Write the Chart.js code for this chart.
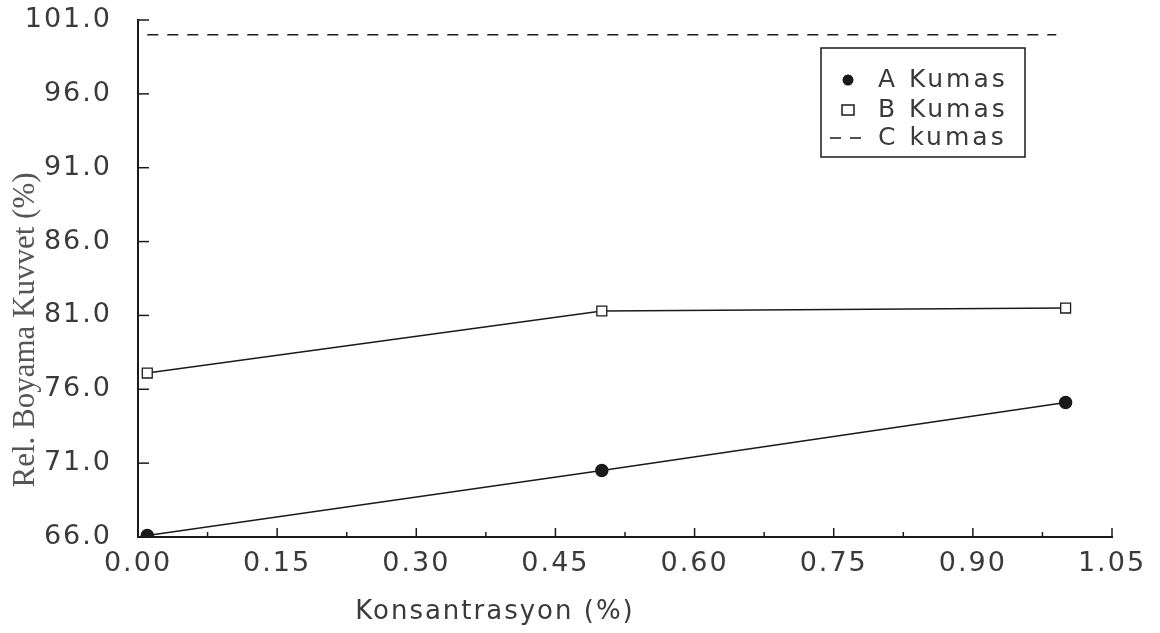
<!DOCTYPE html>
<html>
<head>
<meta charset="utf-8">
<script src="https://cdn.jsdelivr.net/npm/chart.js@4"></script>
<style>
  html, body { margin: 0; padding: 0; background: #fff; }
  #wrap { width: 1160px; height: 633px; }
</style>
</head>
<body>
<div id="wrap"><canvas id="chart" width="1160" height="633"></canvas></div>
<script>
// values
const concA = [0.01, 0.50, 1.00];
const kumasA = [66.1, 70.5, 75.1];
const concB = [0.01, 0.50, 1.00];
const kumasB = [77.1, 81.3, 81.5];
const concC = [0.01, 0.50, 0.99];
const kumasC = [100.0, 100.0, 100.0];
const seriesNames = ["A Kumas", "B Kumas", "C kumas"];
const xTitle = "Konsantrasyon (%)";
const yTitle = "Rel. Boyama Kuvvet (%)";

const ink = "#1a1a1a";
const textInk = "#3a3a3a";
const tickFont = { family: "'DejaVu Sans'", size: 27 };

function toPoints(xs, ys) {
    return xs.map((x, i) => ({ x: x, y: ys[i] }));
}

// inward tick marks, like the old plotter output
const innerTicks = {
    id: "innerTicks",
    afterDraw(chart) {
        const { ctx, scales: { x, y }, chartArea } = chart;
        ctx.save();
        ctx.strokeStyle = ink;
        ctx.lineWidth = 1.5;
        y.ticks.forEach(t => {
            const py = y.getPixelForValue(t.value);
            ctx.beginPath();
            ctx.moveTo(chartArea.left, py);
            ctx.lineTo(chartArea.left + 11, py);
            ctx.stroke();
        });
        x.ticks.forEach((t, i) => {
            const px = x.getPixelForValue(t.value);
            const len = i % 2 === 0 ? 9 : 5;
            ctx.beginPath();
            ctx.moveTo(px, chartArea.bottom);
            ctx.lineTo(px, chartArea.bottom - len);
            ctx.stroke();
        });
        ctx.restore();
    }
};

// axis titles placed where the scan has them
const axisTitles = {
    id: "axisTitles",
    afterDraw(chart) {
        const ctx = chart.ctx;
        ctx.save();
        ctx.fillStyle = textInk;
        ctx.textAlign = "center";
        ctx.textBaseline = "middle";
        ctx.letterSpacing = "2px";
        ctx.font = "26px 'DejaVu Sans'";
        ctx.fillText(xTitle, 495, 612);
        ctx.translate(26, 330);
        ctx.rotate(-Math.PI / 2);
        ctx.letterSpacing = "0px";
        ctx.font = "31px 'Liberation Serif'";
        ctx.fillStyle = "#555";
        ctx.fillText(yTitle, 0, 0);
        ctx.restore();
    }
};

// boxed legend inside the plot, top right
const boxLegend = {
    id: "boxLegend",
    afterDraw(chart) {
        const { ctx, chartArea } = chart;
        const left = chartArea.right - 291, top = chartArea.top + 28;
        const w = 204, h = 109;
        ctx.save();
        ctx.fillStyle = "#fff";
        ctx.fillRect(left, top, w, h);
        ctx.strokeStyle = ink;
        ctx.lineWidth = 1.5;
        ctx.strokeRect(left, top, w, h);
        ctx.font = "25px 'DejaVu Sans'";
        ctx.letterSpacing = "3px";
        ctx.textBaseline = "middle";
        ctx.textAlign = "left";
        const rows = [32, 62, 90];
        chart.data.datasets.forEach((ds, i) => {
            const cy = top + rows[i];
            const sx = left + 27;
            ctx.fillStyle = ink;
            ctx.strokeStyle = ink;
            if (ds.pointStyle === "circle") {
                ctx.beginPath();
                ctx.arc(sx, cy, 5.5, 0, Math.PI * 2);
                ctx.fill();
            } else if (ds.pointStyle === "rect") {
                ctx.fillStyle = "#fff";
                ctx.fillRect(sx - 6, cy - 5, 12, 10);
                ctx.strokeRect(sx - 6, cy - 5, 12, 10);
            } else {
                ctx.setLineDash([11, 9]);
                ctx.beginPath();
                ctx.moveTo(sx - 18, cy);
                ctx.lineTo(sx + 20, cy);
                ctx.stroke();
                ctx.setLineDash([]);
            }
            ctx.fillStyle = textInk;
            ctx.fillText(ds.label, left + 57, cy);
        });
        ctx.restore();
    }
};

const spacing = {
    id: "spacing",
    beforeDraw(chart) { chart.ctx.letterSpacing = "2px"; }
};

new Chart(document.getElementById("chart"), {
    type: "line",
    data: {
        datasets: [
            {
                label: seriesNames[0],
                data: toPoints(concA, kumasA),
                borderColor: ink,
                borderWidth: 1.5,
                pointStyle: "circle",
                pointRadius: 6,
                pointBackgroundColor: ink,
                pointBorderColor: ink
            },
            {
                label: seriesNames[1],
                data: toPoints(concB, kumasB),
                borderColor: ink,
                borderWidth: 1.5,
                pointStyle: "rect",
                pointRadius: 7,
                pointBackgroundColor: "#fff",
                pointBorderColor: ink,
                pointBorderWidth: 1.3
            },
            {
                label: seriesNames[2],
                data: toPoints(concC, kumasC),
                borderColor: ink,
                borderWidth: 1.5,
                borderDash: [11, 9],
                pointStyle: "line",
                pointRadius: 0
            }
        ]
    },
    options: {
        responsive: false,
        animation: false,
        layout: { padding: { top: 20, right: 48, left: 0, bottom: 0 } },
        plugins: { legend: { display: false }, tooltip: { enabled: false } },
        scales: {
            x: {
                type: "linear",
                min: 0,
                max: 1.05,
                afterFit(scale) {
                    scale.height = 96;
                    scale.paddingLeft = 0;
                    scale.paddingRight = 0;
                },
                afterBuildTicks(scale) {
                    const ticks = [];
                    for (let i = 0; i <= 14; i++) ticks.push({ value: Math.round(i * 0.075 * 1000) / 1000 });
                    scale.ticks = ticks;
                },
                border: { display: true, color: ink, width: 2 },
                grid: { drawOnChartArea: false, drawTicks: false },
                ticks: {
                    autoSkip: false,
                    maxRotation: 0,
                    padding: 11,
                    color: textInk,
                    font: tickFont,
                    callback: (v, i) => (i % 2 === 0 ? Number(v).toFixed(2) : "")
                }
            },
            y: {
                type: "linear",
                min: 66,
                max: 101,
                afterFit(scale) {
                    scale.width = 138;
                    scale.paddingTop = 0;
                    scale.paddingBottom = 0;
                },
                border: { display: true, color: ink, width: 2 },
                grid: { drawOnChartArea: false, drawTicks: false },
                ticks: {
                    stepSize: 5,
                    padding: 26,
                    color: textInk,
                    font: tickFont,
                    callback: v => Number(v).toFixed(1)
                }
            }
        }
    },
    plugins: [spacing, innerTicks, axisTitles, boxLegend]
});
</script>
</body>
</html>
